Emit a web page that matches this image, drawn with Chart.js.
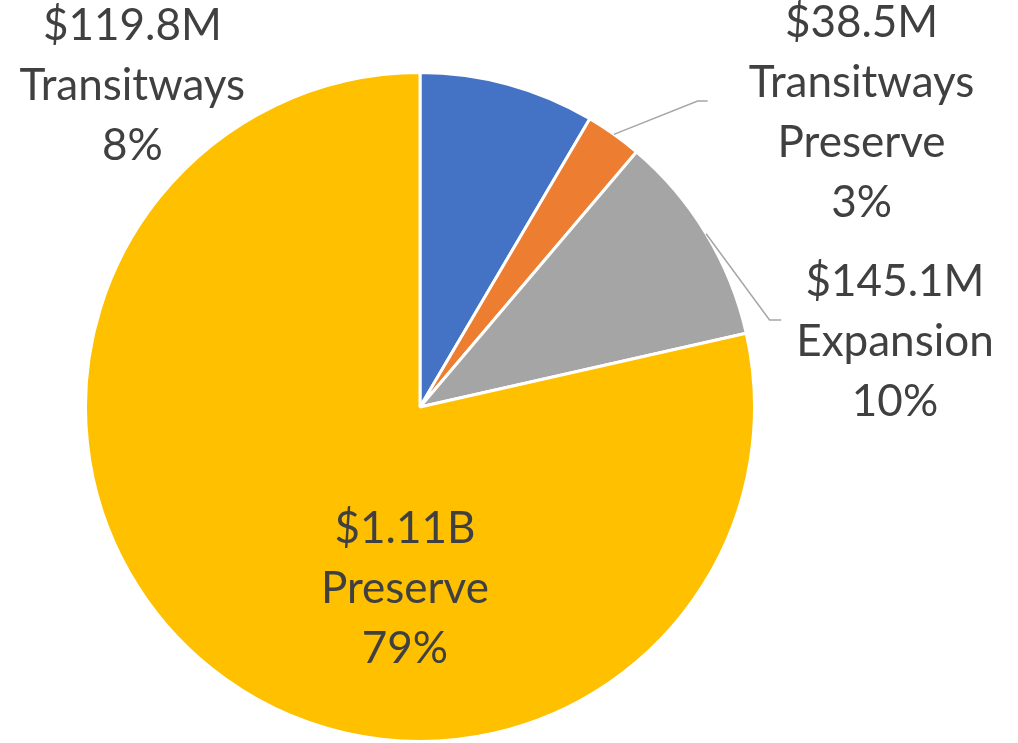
<!DOCTYPE html>
<html>
<head>
<meta charset="utf-8">
<script src="https://cdn.jsdelivr.net/npm/chart.js@4/dist/chart.umd.min.js"></script>
<style>
  html, body { margin: 0; padding: 0; background: #fff; }
  #wrap { width: 1018px; height: 743px; position: relative; }
</style>
</head>
<body>
<div id="wrap"><canvas id="myChart"></canvas></div>
<script>
// Data ($ millions)

const categories = [['Transitways'], ['Transitways', 'Preserve'], ['Expansion'], ['Preserve']];
const amounts = [119.8, 38.5, 145.1, 1110];
const colors = ['#4472C4', '#ED7D31', '#A5A5A5', '#FFC000'];

// Label block centres, in radii from the pie centre, plus optional leader elbows
const labelSpots = [
  { x: -0.86, y: -0.96 },
  { x: 1.32, y: -0.88, elbow: { x: 0.83, y: -0.915 }, end: { x: 0.86, y: -0.915 } },
  { x: 1.42, y: -0.195, elbow: { x: 1.045, y: -0.26 }, end: { x: 1.08, y: -0.26 } },
  { x: -0.045, y: 0.545 },
];

const total = amounts.reduce((a, b) => a + b, 0);

function money(v) {
  return v >= 1000 ? '$' + (v / 1000).toFixed(2) + 'B' : '$' + v.toFixed(1) + 'M';
}

const sliceLabels = {
  id: 'sliceLabels',
  afterDatasetsDraw(chart) {
    const ctx = chart.ctx;
    const arcs = chart.getDatasetMeta(0).data;
    const lineH = 60;
    ctx.save();
    ctx.font = '44px Lato';
    ctx.fillStyle = '#404040';
    ctx.textAlign = 'center';
    ctx.textBaseline = 'middle';
    arcs.forEach((arc, i) => {
      const cx = arc.x, cy = arc.y, r = arc.outerRadius;
      const spot = labelSpots[i];
      if (spot.elbow) {
        const mid = (arc.startAngle + arc.endAngle) / 2;
        ctx.beginPath();
        ctx.strokeStyle = '#A6A6A6';
        ctx.lineWidth = 1.5;
        ctx.moveTo(cx + Math.cos(mid) * r, cy + Math.sin(mid) * r);
        ctx.lineTo(cx + spot.elbow.x * r, cy + spot.elbow.y * r);
        ctx.lineTo(cx + spot.end.x * r, cy + spot.end.y * r);
        ctx.stroke();
      }
      const pct = Math.round(amounts[i] / total * 100) + '%';
      const lines = [money(amounts[i])].concat(categories[i], [pct]);
      const x = cx + spot.x * r;
      const y0 = cy + spot.y * r - (lines.length - 1) * lineH / 2;
      lines.forEach((t, j) => ctx.fillText(t, x, y0 + j * lineH));
    });
    ctx.restore();
  }
};

const ctx = document.getElementById('myChart').getContext('2d');

new Chart(ctx, {
  type: 'pie',
  data: {
    labels: categories.map(c => c.join(' ')),
    datasets: [{
      data: amounts,
      backgroundColor: colors,
      borderColor: '#fff',
      borderWidth: 3,
    }]
  },
  options: {
    responsive: true,
    maintainAspectRatio: false,
    animation: false,
    layout: { padding: { left: 84, right: 262, top: 71, bottom: 0 } },
    plugins: {
      legend: { display: false },
      tooltip: { enabled: false },
    },
  },
  plugins: [sliceLabels],
});
</script>
</body>
</html>
